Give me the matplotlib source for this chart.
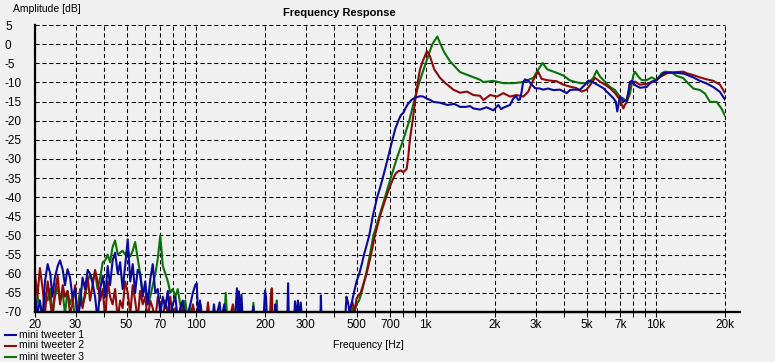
import matplotlib
matplotlib.use('Agg')
import matplotlib.pyplot as plt
import matplotlib.ticker as mticker
from matplotlib.lines import Line2D

plt.rcParams['font.family'] = ['Liberation Sans', 'DejaVu Sans']

# --- data ----------------------------------------------------------------
# shared frequency grid for the noisy low end (Hz)
low_f = [20.0, 20.5, 21.0, 21.6, 22.1, 22.7, 23.3, 23.8, 24.4, 25.1,
         25.7, 26.4, 27.0, 27.7, 28.4, 29.1, 29.9, 30.6, 31.4, 32.2,
         33.0, 33.9, 34.7, 35.6, 36.5, 37.4, 38.4, 39.4, 40.4, 41.4,
         42.4, 43.5, 44.6, 45.8, 46.9, 48.1, 49.3, 50.6, 51.9, 53.2,
         54.5, 55.9, 57.3, 58.8, 60.3, 61.8, 63.4, 65.0, 66.7, 68.4,
         70.1, 71.9, 73.7, 75.6, 77.5, 79.4, 81.5, 83.5, 85.6, 87.8,
         90.0, 92.3, 94.7, 97.1, 99.5]

blue_low = [-66, -70.5, -67, -72, -62, -57.5, -60, -66, -61, -58,
            -56.5, -59, -63, -58.8, -61, -66, -64, -72, -68, -61,
            -64, -59, -60, -62.5, -66, -72, -64, -60.5, -66, -58,
            -63, -56.5, -54.5, -60, -57, -64, -58, -51, -62, -57.5,
            -65, -59, -60, -66, -62, -68, -61.5, -57.5, -65, -64,
            -70.5, -66, -69, -64.5, -72, -68, -66, -72, -69, -67,
            -72, -70.5, -68, -65, -63]
red_low = [-60, -66, -58.5, -64, -70.5, -62, -67, -72, -65, -60.5,
           -68, -63, -66, -64.5, -70.5, -68, -63, -72, -66, -69,
           -65, -61, -67, -63, -59, -62, -67, -64, -72, -62,
           -66, -68, -64, -72, -67, -69, -62, -65, -70.5, -63,
           -67, -72, -64.5, -68, -66, -72, -67, -69, -72, -66,
           -68, -72, -67, -70.5, -66, -72, -69, -72, -70.5, -68,
           -72, -70.5, -72, -68, -71]
green_low = [-72, -66, -68, -70.5, -65, -67, -64, -70.5, -66, -63.5,
             -67, -65, -70.5, -64.5, -68, -66, -72, -70, -64, -68,
             -66, -62, -60, -62, -59.5, -64, -61, -57, -56.5, -55,
             -57, -53, -51.3, -55, -54.5, -54, -55, -54, -55.5, -54,
             -51.7, -56, -60, -65, -64, -68, -66, -63, -60, -56,
             -50, -58, -60, -62, -65, -64, -66, -64, -68, -70.5,
             -67, -72, -69, -70.5, -72]

# sparse spikes 100..450 Hz
blue_mid_f = [101, 102.5, 104.3, 106, 118, 120, 122, 127, 129, 133, 135,
              148, 151, 153, 154, 156, 158, 160, 175, 178, 180, 197, 200,
              202, 204, 220, 222, 224, 250, 252, 254, 268, 270, 274, 278,
              282, 286, 290, 348, 350, 352, 440]
blue_mid_db = [-62.5, -72, -67, -72, -72, -68, -72, -67.5, -72, -68, -72,
               -72, -63.8, -72, -64.6, -72, -65.5, -72, -72, -68.5, -72, -72,
               -64.4, -66, -72, -72, -68, -72, -72, -62.5, -72, -72, -67.2,
               -72, -67, -72, -67.5, -72, -72, -65.7, -72, -72]
red_mid_f = [100.5, 105, 107, 111, 113, 115, 140, 145, 148, 210, 212, 214,
             216, 440]
red_mid_db = [-72, -68, -72, -72, -67.5, -72, -72, -68, -72, -72, -66,
              -63.8, -72, -72]
green_mid_f = [101, 133, 135, 137, 176, 178, 180, 223, 225, 227, 440]
green_mid_db = [-72, -72, -65, -72, -72, -67.6, -72, -72, -67, -72, -72]

# tweeter passband
blue_main_f = [446, 452, 459, 466, 475, 487, 500, 514, 527, 539, 553, 568,
               588, 615, 633, 650, 683, 716, 738, 760, 780, 798, 820, 840,
               870, 898, 944, 975, 1009, 1045, 1080, 1150, 1244, 1330, 1409,
               1491, 1557, 1610, 1721, 1840, 1900, 1967, 2068, 2128, 2174,
               2324, 2403, 2466, 2527, 2570, 2612, 2648, 2700, 2791, 2886,
               2985, 3138, 3243, 3400, 3586, 3834, 4099, 4237, 4380, 4684,
               4924, 5090, 5352, 5535, 5914, 6218, 6538, 6700, 6804, 6900,
               6993, 7227, 7473, 7600, 7727, 7900, 8124, 8538, 9128, 9598,
               10091, 10784, 11534, 12330, 13183, 13630, 14566, 15565,
               16652, 17786, 19024, 20000]
blue_main_db = [-72, -66, -67.5, -70, -68, -65, -62, -60, -57.5, -55, -52.5,
                -50, -45, -40, -37.5, -35, -30, -25, -22, -20, -18.5, -18,
                -16.5, -15.5, -14.5, -14, -13.6, -13.7, -14.2, -14.6, -15.1,
                -15.3, -15.9, -15.6, -16.4, -16.4, -16.2, -16.8, -17.1, -16.5,
                -16.9, -17.3, -15.9, -17.0, -16.6, -15.9, -14.2, -13.6, -14.6,
                -14.4, -12.4, -10.0, -9.2, -9.6, -10.5, -11.5, -11.6, -11.9,
                -11.6, -12.0, -11.9, -12.8, -12.0, -11.9, -11.9, -10.6, -9.5,
                -10.0, -10.5, -11.5, -12.8, -14.1, -15.0, -17.6, -15.5, -13.7,
                -15.0, -14.6, -12.5, -9.8, -9.6, -10.7, -11.4, -11.2, -9.8,
                -9.4, -7.6, -7.4, -7.5, -7.7, -8.0, -8.7, -9.6, -10.3, -11.2,
                -12.5, -14.5]

red_main_f = [462, 470, 480, 490, 500, 521, 537, 553, 578, 601, 632, 672,
              699, 723, 740, 760, 780, 798, 826, 840, 853, 877, 898, 922,
              944, 970, 992, 1012, 1043, 1089, 1153, 1213, 1318, 1409, 1510,
              1610, 1721, 1780, 1905, 2040, 2174, 2324, 2480, 2655, 2791,
              2886, 3020, 3085, 3190, 3430, 3708, 3963, 4237, 4520, 4760,
              5000, 5200, 5443, 5722, 6014, 6325, 6650, 6993, 7227, 7350,
              7473, 7650, 7727, 8124, 8538, 9128, 9800, 10500, 11200, 12330,
              13183, 13630, 14566, 15565, 16652, 17786, 19024, 20000]
red_main_db = [-72, -69, -67.5, -70, -66.5, -65, -62.5, -60, -55, -50, -45,
               -40, -37.2, -35, -33.8, -33.2, -33.0, -33.5, -32.6, -29.3,
               -24.9, -20, -15, -10, -6.6, -4.45, -3.1, -1.8, -3.2, -6.6,
               -8.8, -10.1, -11.9, -12.7, -12.4, -13.3, -13.5, -14.6, -13.3,
               -13.7, -12.8, -13.7, -13.3, -13.7, -12.4, -10.2, -8.0, -7.3,
               -9.1, -9.5, -9.7, -10.6, -11.1, -11.5, -12.4, -11.9, -10.6,
               -8.8, -9.8, -10.6, -11.5, -12.8, -14.6, -16.8, -15.8, -15.3,
               -12.0, -10.2, -9.8, -10.6, -10.4, -9.8, -8.5, -7.6, -7.3,
               -7.2, -7.6, -8.1, -8.7, -9.2, -9.6, -10.6, -12.8]

green_main_f = [459, 470, 480, 490, 500, 513, 526, 550, 572, 592, 628, 665,
                704, 747, 798, 848, 889, 937, 999, 1068, 1100, 1123, 1153,
                1200, 1275, 1409, 1557, 1721, 1780, 1967, 2174, 2403, 2655,
                2935, 3118, 3223, 3375, 3708, 3963, 4237, 4684, 5090, 5352,
                5535, 5722, 6014, 6325, 6650, 6993, 7227, 7473, 7727, 7989,
                8124, 8398, 8683, 9128, 9598, 10091, 10609, 10965, 11725,
                12330, 13183, 13855, 14566, 15565, 16367, 17208, 18397,
                19339, 20000]
green_main_db = [-72, -72, -69, -70, -68, -67, -65, -60, -55, -50, -45, -40,
                 -35, -30, -25, -20, -15, -10, -5, 0, 1.2, 2.0, 0.3, -2,
                 -4.5, -7.3, -8.3, -9.3, -9.9, -9.6, -10.2, -10.2, -9.9,
                 -8.8, -6.2, -4.9, -6.6, -7.5, -8.2, -9.5, -10.2, -10.2,
                 -8.8, -6.9, -8.5, -9.8, -11.2, -12, -13.8, -14.2, -15.1,
                 -12.9, -8.1, -7.2, -8.5, -9.4, -9.4, -8.7, -9.4, -7.6, -7.2,
                 -7.4, -8.3, -8.9, -10.3, -11.6, -12, -12.9, -15.1, -15.1,
                 -16.9, -18.7]

series_names = ['mini tweeter 1', 'mini tweeter 2', 'mini tweeter 3']
series_colors = ['#0a0a9c', '#8e0a0a', '#0a720a']

grid_f = [20, 30, 40, 50, 60, 70, 80, 90, 100, 200, 300, 400, 500, 600, 700,
          800, 900, 1000, 2000, 3000, 4000, 5000, 6000, 7000, 8000, 9000,
          10000, 20000]
label_f = {20: '20', 30: '30', 50: '50', 70: '70', 100: '100', 200: '200',
           300: '300', 500: '500', 700: '700', 1000: '1k', 2000: '2k',
           3000: '3k', 5000: '5k', 7000: '7k', 10000: '10k', 20000: '20k'}
db_ticks = [5, 0, -5, -10, -15, -20, -25, -30, -35, -40, -45, -50, -55,
            -60, -65, -70]

blue_f = low_f + blue_mid_f + blue_main_f
blue_db = blue_low + blue_mid_db + blue_main_db
red_f = low_f + red_mid_f + red_main_f
red_db = red_low + red_mid_db + red_main_db
green_f = low_f + green_mid_f + green_main_f
green_db = green_low + green_mid_db + green_main_db

# --- figure ---------------------------------------------------------------
W, H = 775, 362
bg = '#f0f0f0'
fig = plt.figure(figsize=(W / 100, H / 100), dpi=100, facecolor=bg)
ax = fig.add_axes([35 / W, 1 - 312 / H, 690 / W, 287 / H], facecolor=bg)

lw = 1.5
ax.plot(green_f, green_db, color=series_colors[2], lw=lw)
ax.plot(red_f, red_db, color=series_colors[1], lw=lw)
ax.plot(blue_f, blue_db, color=series_colors[0], lw=lw)

ax.set_xscale('log')
ax.set_xlim(20, 20000)
ax.set_ylim(-70, 5)
ax.xaxis.set_major_locator(mticker.FixedLocator(grid_f))
ax.xaxis.set_major_formatter(mticker.FixedFormatter([label_f.get(f, '') for f in grid_f]))
ax.xaxis.set_minor_locator(mticker.NullLocator())
ax.yaxis.set_major_locator(mticker.FixedLocator(db_ticks))
ax.yaxis.set_major_formatter(mticker.FixedFormatter([str(v) for v in db_ticks]))
ax.yaxis.set_minor_locator(mticker.NullLocator())

ax.grid(True, color='black', linewidth=0.75, linestyle=(0, (4, 2.6)))
for gl in ax.get_xgridlines() + ax.get_ygridlines():
    gl.set_clip_on(False)

ax.tick_params(axis='x', direction='out', length=3.5, width=0.75, pad=1.5,
               labelsize=8.5, colors='black')
ax.tick_params(axis='y', length=0, pad=21.6, labelsize=8.5, colors='black')
for t in ax.get_yticklabels():
    t.set_horizontalalignment('left')

for s in ['top', 'right']:
    ax.spines[s].set_visible(False)
ax.spines['left'].set_linewidth(1.6)
ax.spines['bottom'].set_linewidth(1.6)
# bottom axis line runs a bit past 20k
ax.add_line(Line2D([0, 705 / 690], [0, 0], transform=ax.transAxes, color='black',
                   lw=1.6, clip_on=False, zorder=5))

fig.text(12.7 / W, 1 - 12.5 / H, 'Amplitude [dB]', fontsize=7.5, va='baseline')
fig.text(339 / W, 1 - 16 / H, 'Frequency Response', fontsize=8, fontweight='bold',
         ha='center', va='baseline')
fig.text(368 / W, 1 - 347.5 / H, 'Frequency [Hz]', fontsize=7.5, ha='center',
         va='baseline')

# legend bottom left
leg_y = [334.5, 345.5, 356.5]
for name, col, yy in zip(series_names, series_colors, leg_y):
    fig.add_artist(Line2D([5 / W, 16 / W], [1 - yy / H, 1 - yy / H], color=col, lw=1.5))
    fig.text(19 / W, 1 - yy / H, name, fontsize=7.5, va='center')

fig.savefig('out.png', dpi=100, facecolor=bg)
